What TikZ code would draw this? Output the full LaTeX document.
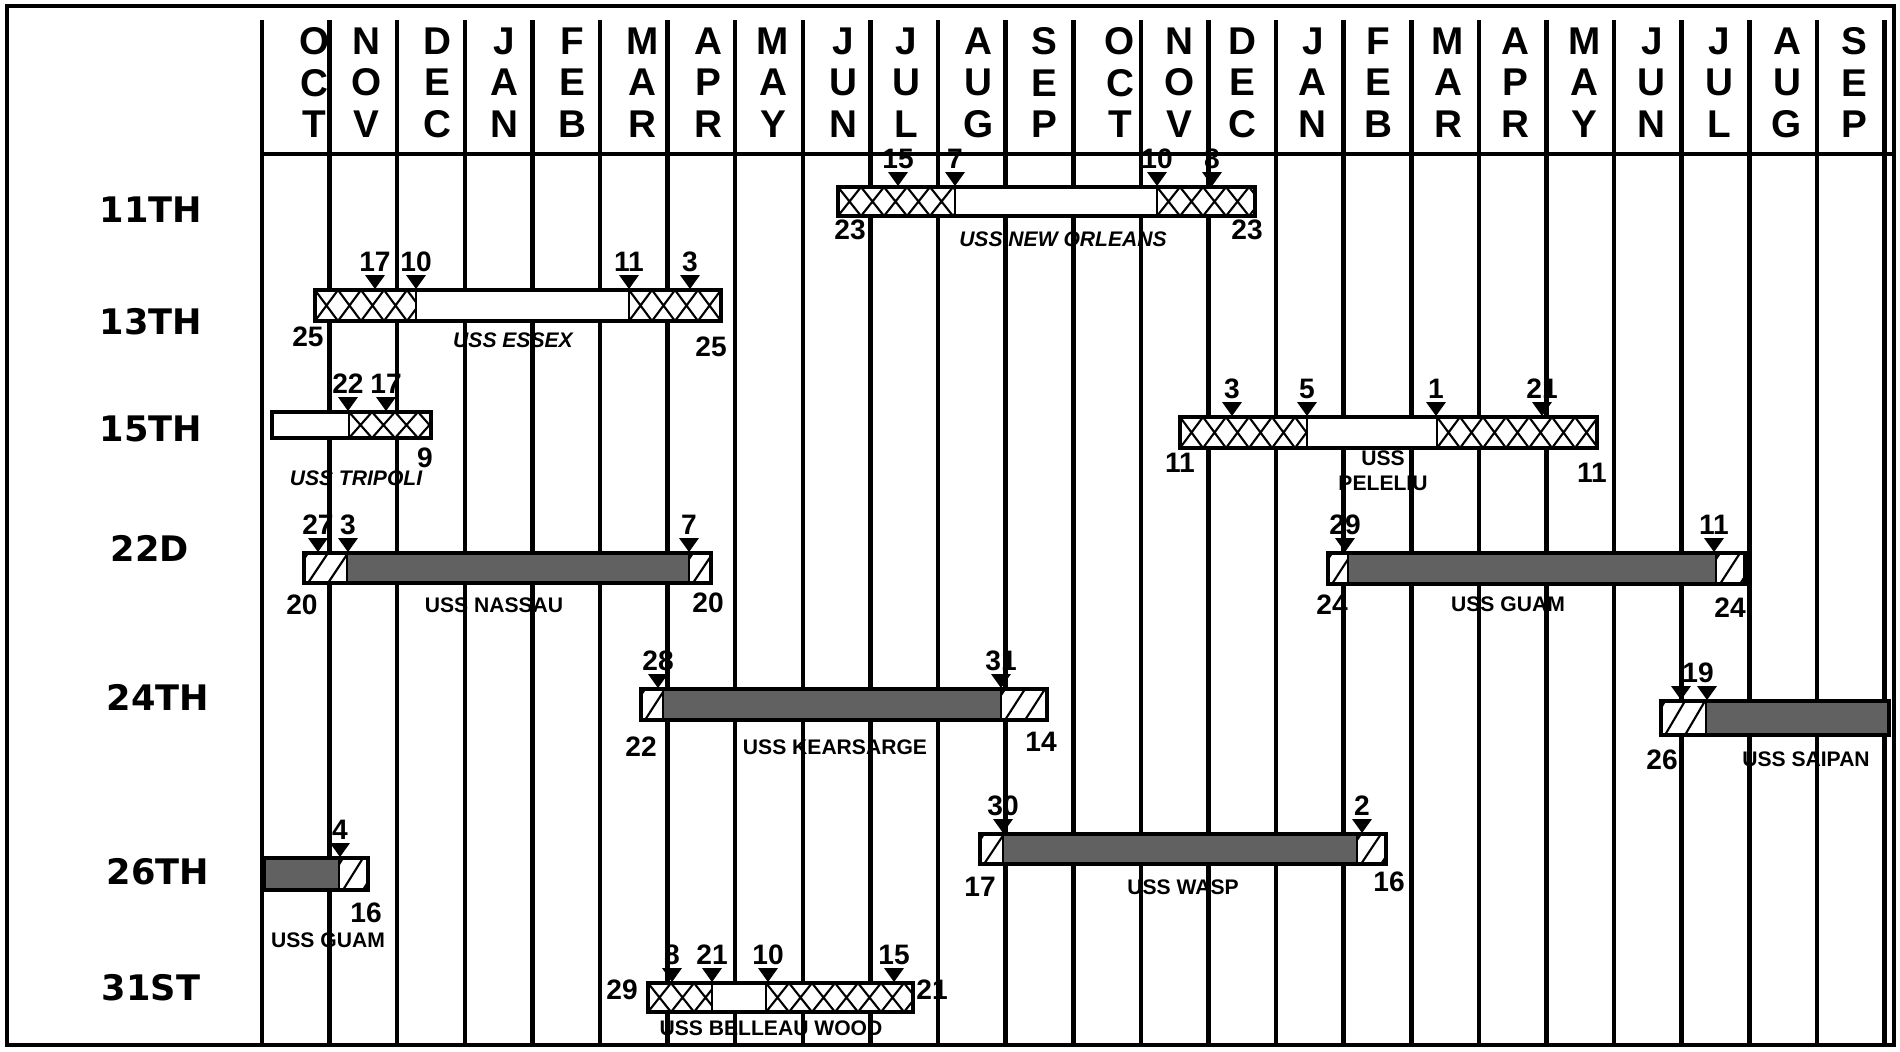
\documentclass[tikz,border=0pt]{standalone}
\usepackage{fontspec}
\setmainfont{Liberation Sans}
\newfontfamily\widefont{DejaVu Sans}
\usepackage{tikz}

% hachures croisees / obliques, pointeur de date
\newcommand{\xhatch}[4]{%
  \begin{scope}
    \clip (#1,#3) rectangle (#2,#4);
    \foreach \k in {0,...,8}
      \draw[hatch] (#1+\k*23,#3) -- (#1+\k*23+23,#4) (#1+\k*23+23,#3) -- (#1+\k*23,#4);
  \end{scope}}
\newcommand{\dhatch}[4]{%
  \begin{scope}
    \clip (#1,#3) rectangle (#2,#4);
    \foreach \k in {-1,...,3}
      \draw[hatch] (#1+4+\k*20,#4) -- (#1+24+\k*20,#3);
  \end{scope}}
\newcommand{\tri}[2]{\fill (#1-10,#2-15) -- (#1+10,#2-15) -- (#1,#2-1) -- cycle;}
\newcommand{\arr}[4]{\tri{#2}{#3}\node[num, anchor=base] (#1) at (#2,#3-19) {#4};}

\begin{document}
\begin{tikzpicture}[x=0.01cm, y=-0.01cm,
  border/.style={line width=0.9pt},
  monthline/.style={line width=1.3pt},
  shipbar/.style={line width=0.9pt},
  seg/.style={line width=0.6pt},
  hatch/.style={line width=0.6pt},
  dark/.style={fill=black!62},
  month/.style={font=\fontsize{11}{11.8}\selectfont\bfseries, align=center, anchor=north, inner sep=0pt},
  unit/.style={font=\widefont\fontsize{10}{12}\selectfont\bfseries, inner sep=0pt},
  num/.style={font=\fontsize{8}{8}\selectfont\bfseries, inner sep=0pt},
  ship/.style={font=\fontsize{6}{6}\selectfont\bfseries, inner sep=0pt},
  shipit/.style={font=\fontsize{6}{6}\selectfont\bfseries\itshape, inner sep=0pt}]
  \useasboundingbox (0,0) rectangle (1900,1051);

  % CADRE ET MOIS
  \draw[border] (7,6) rectangle (1894,1045);
  \foreach \i in {0,...,24}
    \draw[monthline] (262+67.6*\i,20) -- (262+67.6*\i,1045);
  \draw[monthline] (262,154) -- (1894,154);
  \foreach \m/\dx [count=\i from 0] in {O\\C\\T/19, N\\O\\V/3, D\\E\\C/6, J\\A\\N/6, F\\E\\B/6, M\\A\\R/9,
      A\\P\\R/7, M\\A\\Y/4, J\\U\\N/7, J\\U\\L/2, A\\U\\G/7, S\\E\\P/5, O\\C\\T/13, N\\O\\V/5,
      D\\E\\C/0, J\\A\\N/3, F\\E\\B/1, M\\A\\R/3, A\\P\\R/3, M\\A\\Y/4, J\\U\\N/4, J\\U\\L/4,
      A\\U\\G/4, S\\E\\P/4}
    \node[month] (m\i) at (262+67.6*\i+33.8+\dx,27) {\m};

  % UNITES
  \node[unit] (u11) at (151,210) {11TH};
  \node[unit] (u13) at (151,322) {13TH};
  \node[unit] (u15) at (151,429) {15TH};
  \node[unit] (u22) at (150,548) {22D};
  \node[unit] (u24) at (158,697) {24TH};
  \node[unit] (u26) at (158,872) {26TH};
  \node[unit] (u31) at (151,988) {31ST};

  % 11TH - NEW ORLEANS
  \fill[white] (838,187) rectangle (1255,216);
  \xhatch{838}{955}{187}{216}
  \xhatch{1157}{1255}{187}{216}
  \draw[shipbar] (838,187) rectangle (1255,216);
  \draw[seg] (955,187) -- (955,216) (1157,187) -- (1157,216);
  \arr{a1}{898}{187}{15}
  \arr{a2}{955}{187}{7}
  \arr{a3}{1157}{187}{10}
  \arr{a4}{1212}{187}{8}
  \node[num] (a5) at (850,230) {23};
  \node[num] (a6) at (1247,230) {23};
  \node[shipit] (a7) at (1063,239) {USS NEW ORLEANS};

  % 13TH - ESSEX
  \fill[white] (315,290) rectangle (721,321);
  \xhatch{315}{416}{290}{321}
  \xhatch{629}{721}{290}{321}
  \draw[shipbar] (315,290) rectangle (721,321);
  \draw[seg] (416,290) -- (416,321) (629,290) -- (629,321);
  \arr{b1}{375}{290}{17}
  \arr{b2}{416}{290}{10}
  \arr{b3}{629}{290}{11}
  \arr{b4}{690}{290}{3}
  \node[num] (b5) at (308,337) {25};
  \node[num] (b6) at (711,347) {25};
  \node[shipit] (b7) at (513,340) {USS ESSEX};

  % 15TH - TRIPOLI
  \fill[white] (272,412) rectangle (431,438);
  \xhatch{349}{431}{412}{438}
  \draw[shipbar] (272,412) rectangle (431,438);
  \draw[seg] (349,412) -- (349,438);
  \arr{c1}{348}{412}{22}
  \arr{c2}{386}{412}{17}
  \node[num] (c3) at (425,458) {9};
  \node[shipit] (c4) at (356,478) {USS TRIPOLI};

  % 15TH - PELELIU
  \fill[white] (1180,417) rectangle (1597,448);
  \xhatch{1180}{1307}{417}{448}
  \xhatch{1437}{1597}{417}{448}
  \draw[shipbar] (1180,417) rectangle (1597,448);
  \draw[seg] (1307,417) -- (1307,448) (1437,417) -- (1437,448);
  \arr{p1}{1232}{417}{3}
  \arr{p2}{1307}{417}{5}
  \arr{p3}{1436}{417}{1}
  \arr{p4}{1542}{417}{21}
  \node[num] (p5) at (1180,463) {11};
  \node[num] (p6) at (1592,473) {11};
  \node[ship] (p7) at (1383,458) {USS};
  \node[ship] (p8) at (1383,483) {PELELIU};

  % 22D - NASSAU
  \fill[dark] (347,553) rectangle (689,583);
  \fill[white] (304,553) rectangle (347,583) (689,553) rectangle (711,583);
  \dhatch{304}{347}{553}{583}
  \dhatch{689}{711}{553}{583}
  \draw[shipbar] (304,553) rectangle (711,583);
  \draw[seg] (347,553) -- (347,583) (689,553) -- (689,583);
  \arr{n1}{318}{553}{27}
  \arr{n2}{348}{553}{3}
  \arr{n3}{689}{553}{7}
  \node[num] (n4) at (302,605) {20};
  \node[num] (n5) at (708,603) {20};
  \node[ship] (n6) at (494,605) {USS NASSAU};

  % 22D - GUAM
  \fill[dark] (1348,553) rectangle (1716,584);
  \fill[white] (1328,553) rectangle (1348,584) (1716,553) rectangle (1745,584);
  \dhatch{1328}{1348}{553}{584}
  \dhatch{1716}{1745}{553}{584}
  \draw[shipbar] (1328,553) rectangle (1745,584);
  \draw[seg] (1348,553) -- (1348,584) (1716,553) -- (1716,584);
  \arr{g1}{1345}{553}{29}
  \arr{g2}{1714}{553}{11}
  \node[num] (g3) at (1332,605) {24};
  \node[num] (g4) at (1730,608) {24};
  \node[ship] (g5) at (1508,604) {USS GUAM};

  % 24TH - KEARSARGE
  \fill[dark] (663,689) rectangle (1001,720);
  \fill[white] (641,689) rectangle (663,720) (1001,689) rectangle (1047,720);
  \dhatch{641}{663}{689}{720}
  \dhatch{1001}{1047}{689}{720}
  \draw[shipbar] (641,689) rectangle (1047,720);
  \draw[seg] (663,689) -- (663,720) (1001,689) -- (1001,720);
  \arr{k1}{658}{689}{28}
  \arr{k2}{1001}{689}{31}
  \node[num] (k3) at (641,747) {22};
  \node[num] (k4) at (1041,742) {14};
  \node[ship] (k5) at (835,747) {USS KEARSARGE};

  % 24TH - SAIPAN
  \fill[dark] (1706,701) rectangle (1889,735);
  \fill[white] (1661,701) rectangle (1706,735);
  \dhatch{1661}{1706}{701}{735}
  \draw[shipbar] (1661,701) rectangle (1889,735);
  \draw[seg] (1706,701) -- (1706,735);
  \tri{1681}{701}
  \tri{1707}{701}
  \node[num, anchor=base] (sa1) at (1698,682) {19};
  \node[num] (sa2) at (1662,760) {26};
  \node[ship] (sa3) at (1806,759) {USS SAIPAN};

  % 26TH - GUAM
  \fill[dark] (264,858) rectangle (339,890);
  \fill[white] (339,858) rectangle (368,890);
  \dhatch{339}{368}{858}{890}
  \draw[shipbar] (264,858) rectangle (368,890);
  \draw[seg] (339,858) -- (339,890);
  \arr{r1}{340}{858}{4}
  \node[num] (r2) at (366,913) {16};
  \node[ship] (r3) at (328,940) {USS GUAM};

  % 26TH - WASP
  \fill[dark] (1003,834) rectangle (1357,864);
  \fill[white] (980,834) rectangle (1003,864) (1357,834) rectangle (1386,864);
  \dhatch{980}{1003}{834}{864}
  \dhatch{1357}{1386}{834}{864}
  \draw[shipbar] (980,834) rectangle (1386,864);
  \draw[seg] (1003,834) -- (1003,864) (1357,834) -- (1357,864);
  \arr{w1}{1003}{834}{30}
  \arr{w2}{1362}{834}{2}
  \node[num] (w3) at (980,887) {17};
  \node[num] (w4) at (1389,882) {16};
  \node[ship] (w5) at (1183,887) {USS WASP};

  % 31ST - BELLEAU WOOD
  \fill[white] (648,983) rectangle (913,1012);
  \xhatch{648}{712}{983}{1012}
  \xhatch{766}{913}{983}{1012}
  \draw[shipbar] (648,983) rectangle (913,1012);
  \draw[seg] (712,983) -- (712,1012) (766,983) -- (766,1012);
  \arr{bw1}{672}{983}{8}
  \arr{bw2}{712}{983}{21}
  \arr{bw3}{768}{983}{10}
  \arr{bw4}{894}{983}{15}
  \node[num] (bw5) at (622,990) {29};
  \node[num] (bw6) at (932,990) {21};
  \node[ship] (bw7) at (771,1028) {USS BELLEAU WOOD};
\end{tikzpicture}
\end{document}
